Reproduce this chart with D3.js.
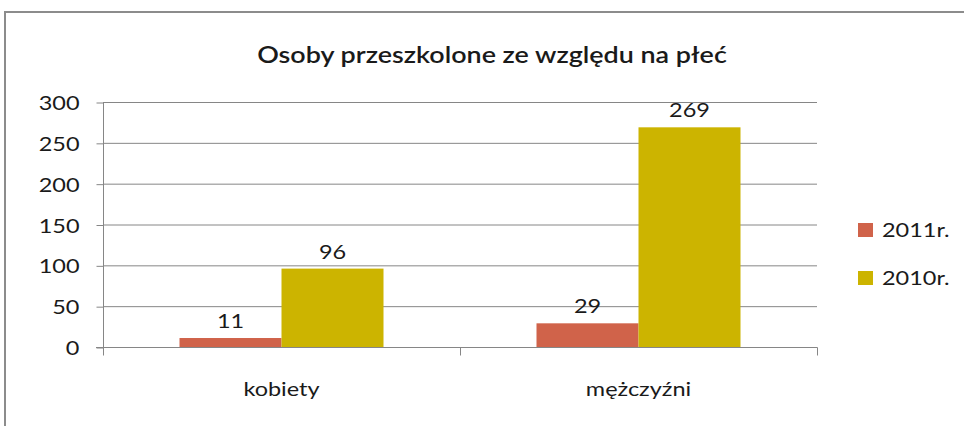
<!DOCTYPE html>
<html>
<head>
<meta charset="utf-8">
<script src="https://cdn.jsdelivr.net/npm/d3@7"></script>
<style>
  body { margin: 0; background: #fff; }
  svg text { font-family: Lato, "Open Sans", sans-serif; fill: #1a1a1a; }
</style>
</head>
<body>
<svg id="chart" width="964" height="426"></svg>
<script>
// data
var categories = ["kobiety", "mężczyźni"];
var seriesNames = ["2011r.", "2010r."];
var values2011 = [11, 29];
var values2010 = [96, 269];
var yTicks = [0, 50, 100, 150, 200, 250, 300];
var colors = ["#d0634a", "#ccb400"];

var svg = d3.select("#chart");
var sx = 1.27; // reference text is stretched horizontally

// outer frame
svg.append("rect")
  .attr("x", 5).attr("y", 12)
  .attr("width", 975).attr("height", 430)
  .attr("fill", "none")
  .attr("stroke", "#8c8c8c")
  .attr("stroke-width", 2);

function stretchedText(sel, x, y, s) {
  return sel.attr("transform", "translate(" + x + "," + y + ") scale(" + (s || sx) + ",1)");
}

// title
stretchedText(svg.append("text"), 492, 63, 1.17)
  .attr("text-anchor", "middle")
  .attr("font-size", 23)
  .attr("font-weight", 600)
  .text("Osoby przeszkolone ze względu na płeć");

var x0 = d3.scaleBand()
  .domain(categories)
  .range([103, 817])
  .paddingInner(0)
  .paddingOuter(0);

var x1 = d3.scaleBand()
  .domain(seriesNames)
  .range([0, x0.bandwidth()])
  .paddingInner(0)
  .paddingOuter(0.75);

var y = d3.scaleLinear()
  .domain([0, 300])
  .range([347, 102]);

// gridlines
svg.append("g").selectAll("line")
  .data(yTicks.filter(function(d) { return d > 0; }))
  .enter().append("line")
    .attr("x1", 103).attr("x2", 817)
    .attr("y1", function(d) { return y(d) + 0.5; })
    .attr("y2", function(d) { return y(d) + 0.5; })
    .attr("stroke", "#868686")
    .attr("stroke-width", 1);

// y axis
var yAxis = svg.append("g")
  .attr("transform", "translate(103.5,0.5)")
  .call(d3.axisLeft(y).tickValues(yTicks).tickSize(7).tickPadding(17));
yAxis.select(".domain").attr("stroke", "#868686").attr("d", "M0," + y(300) + "V" + (y(0) + 6));
yAxis.selectAll(".tick line").attr("stroke", "#868686");
yAxis.selectAll(".tick text").remove();
yAxis.selectAll(".tick").each(function(d) {
  stretchedText(d3.select(this).append("text"), -24, 7)
    .attr("text-anchor", "end")
    .attr("font-size", 18.5)
    .text(d);
});

// bars
var rows = categories.map(function(c, i) {
  return { cat: c, vals: [values2011[i], values2010[i]] };
});

var groups = svg.append("g").selectAll("g")
  .data(rows)
  .enter().append("g")
    .attr("transform", function(d) { return "translate(" + x0(d.cat) + ",0)"; });

groups.selectAll("rect")
  .data(function(d) { return d.vals.map(function(v, j) { return { s: seriesNames[j], v: v, j: j }; }); })
  .enter().append("rect")
    .attr("x", function(d) { return x1(d.s); })
    .attr("y", function(d) { return y(d.v); })
    .attr("width", x1.bandwidth())
    .attr("height", function(d) { return y(0) - y(d.v); })
    .attr("fill", function(d) { return colors[d.j]; });

groups.selectAll("text.val")
  .data(function(d) { return d.vals.map(function(v, j) { return { s: seriesNames[j], v: v }; }); })
  .enter().append("text")
    .attr("class", "val")
    .attr("text-anchor", "middle")
    .attr("font-size", 18.5)
    .each(function(d) {
      stretchedText(d3.select(this), x1(d.s) + x1.bandwidth() / 2, y(d.v) - 10);
    })
    .text(function(d) { return d.v; });

// x axis
var xAxis = svg.append("g")
  .attr("transform", "translate(0," + (y(0) + 0.5) + ")");
xAxis.append("line")
  .attr("x1", 96).attr("x2", 817.5)
  .attr("stroke", "#868686");
xAxis.selectAll("line.tk")
  .data([103, x0(categories[1]), 817])
  .enter().append("line")
    .attr("class", "tk")
    .attr("x1", function(d) { return d + 0.5; })
    .attr("x2", function(d) { return d + 0.5; })
    .attr("y1", 0).attr("y2", 8)
    .attr("stroke", "#868686");
xAxis.selectAll("text")
  .data(categories)
  .enter().append("text")
    .attr("text-anchor", "middle")
    .attr("font-size", 18.5)
    .each(function(d) {
      stretchedText(d3.select(this), x0(d) + x0.bandwidth() / 2, 48);
    })
    .text(function(d) { return d; });

// legend
var legend = svg.append("g").selectAll("g")
  .data(seriesNames)
  .enter().append("g")
    .attr("transform", function(d, i) { return "translate(858," + (223 + i * 48) + ")"; });
legend.append("rect")
  .attr("width", 15).attr("height", 14)
  .attr("fill", function(d, i) { return colors[i]; });
legend.append("text")
  .attr("font-size", 18.5)
  .each(function() { stretchedText(d3.select(this), 24, 14); })
  .text(function(d) { return d; });
</script>
</body>
</html>
